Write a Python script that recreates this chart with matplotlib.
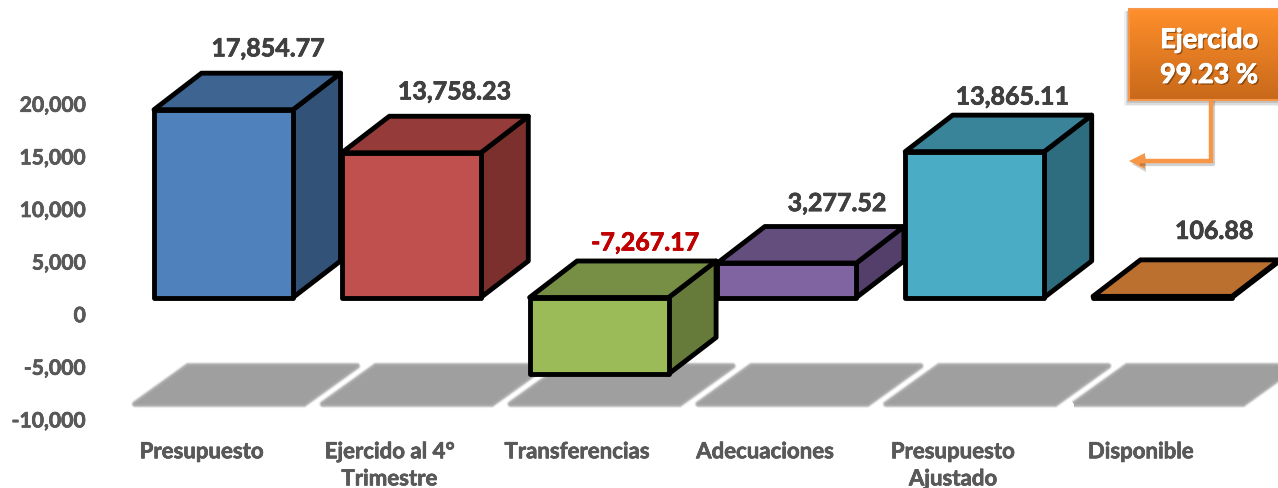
import numpy as np
import matplotlib
matplotlib.use("Agg")
import matplotlib.pyplot as plt
from matplotlib.patches import Polygon
from matplotlib.transforms import ScaledTranslation
import matplotlib.patheffects as pe

# --- data
categories = ["Presupuesto", "Ejercido al 4°\nTrimestre", "Transferencias",
              "Adecuaciones", "Presupuesto\nAjustado", "Disponible"]
values = [17854.77, 13758.23, -7267.17, 3277.52, 13865.11, 106.88]
value_labels = ["17,854.77", "13,758.23", "-7,267.17", "3,277.52", "13,865.11", "106.88"]
y_ticks = [-10000, -5000, 0, 5000, 10000, 15000, 20000]
callout_lines = ["Ejercido", "99.23 %"]

# --- style
front_colors = ["#4F81BD", "#C0504D", "#9BBB59", "#8064A2", "#4BACC6", "#F79646"]
top_colors = ["#3E6491", "#953B39", "#778F44", "#634E7D", "#3A8499", "#BC7030"]
side_colors = ["#325278", "#7B302E", "#667A3A", "#543F6B", "#2E6D80", "#9E5E28"]
label_colors = ["#404040", "#404040", "#C00000", "#404040", "#404040", "#404040"]
# label nudges from the bar's back-top centre, in points
label_nudge_x = [-2, -3, -1, 2, -7, 3]
label_nudge_y = [17.5, 17.5, 13, 16.5, 13, 20.5]

W, H = 1278, 489
DPI = 100
L_PX, B_PX = 90, 436      # axes box in pixels (left, bottom from top)
PX_X = 1 / 187.8          # category units per pixel
PX_Y = 5000 / 52.6        # value units per pixel
TICK0_X, ZERO_Y = 202, 314

fig = plt.figure(figsize=(W / DPI, H / DPI), dpi=DPI, facecolor="white")
ax = fig.add_axes([L_PX / W, (H - B_PX) / H, (W - L_PX) / W, B_PX / H])
ax.set_xlim((L_PX - TICK0_X) * PX_X, (W - TICK0_X) * PX_X)
ax.set_ylim((ZERO_Y - B_PX) * PX_Y, ZERO_Y * PX_Y)
for s in ax.spines.values():
    s.set_visible(False)

FONT = "Lato"
def heavy(color, lw=0.45):
    return [pe.withStroke(linewidth=lw, foreground=color), pe.Normal()]

ax.set_yticks(y_ticks)
ax.set_yticklabels([f"{t:,}" for t in y_ticks], family=FONT, fontweight="bold",
                   fontsize=15.2, color="#595959", path_effects=heavy("#595959"))
ax.tick_params(axis="y", length=0, pad=3)
down = ScaledTranslation(0, -1.2 / DPI, fig.dpi_scale_trans)
for lab in ax.get_yticklabels():
    lab.set_transform(lab.get_transform() + down)
ax.set_xticks(range(len(categories)))
ax.set_xticklabels(categories, family=FONT, fontweight="bold", fontsize=16,
                   color="#595959", linespacing=1.36, path_effects=heavy("#595959"))
ax.tick_params(axis="x", length=0, pad=4.5)

# --- geometry of the 3-D boxes
SHIFT = 21.5 * PX_X
HALF = 69.5 * PX_X
DX, DY = 47.5 * PX_X, 36.5 * PX_Y
LIFT = 15.5 * PX_Y
OUT = dict(edgecolor="black", linewidth=3.5, joinstyle="round")

# floor shadows (inset polygon + stacked round strokes give the soft, rounded edge)
INSET = 3
SH_Y0, SH_Y1 = (ZERO_Y - 408 + INSET) * PX_Y, (ZERO_Y - 364 - INSET) * PX_Y
SH_L, SH_R, SH_S = -67 * PX_X, 102 * PX_X, 53 * PX_X
for i in range(len(values)):
    c = i
    pts = [(c + SH_L, SH_Y0), (c + SH_R, SH_Y0), (c + SH_R + SH_S, SH_Y1), (c + SH_L + SH_S, SH_Y1)]
    for lw, a in [(6.0, 0.10), (5.2, 0.16), (4.4, 0.25), (3.6, 0.4), (2.6, 0.7)]:
        ax.add_patch(Polygon(pts, closed=True, facecolor="none", edgecolor="#9F9F9F",
                             linewidth=lw, alpha=a, joinstyle="round", zorder=1))
    ax.add_patch(Polygon(pts, closed=True, facecolor="#9F9F9F", edgecolor="none", zorder=1.1))

# boxes
for i, v in enumerate(values):
    xl, xr = i + SHIFT - HALF, i + SHIFT + HALF
    y0, y1 = LIFT + min(v, 0), LIFT + max(v, 0)
    z = 2 + i * 0.1
    ax.add_patch(Polygon([(xr, y0), (xr + DX, y0 + DY), (xr + DX, y1 + DY), (xr, y1)],
                         closed=True, facecolor=side_colors[i], zorder=z, clip_on=False, **OUT))
    ax.add_patch(Polygon([(xl, y1), (xr, y1), (xr + DX, y1 + DY), (xl + DX, y1 + DY)],
                         closed=True, facecolor=top_colors[i], zorder=z, clip_on=False, **OUT))
    ax.add_patch(Polygon([(xl, y0), (xr, y0), (xr, y1), (xl, y1)],
                         closed=True, facecolor=front_colors[i], zorder=z, clip_on=False, **OUT))
    ax.annotate(value_labels[i], xy=(i + SHIFT + DX, y1 + DY),
                xytext=(label_nudge_x[i], label_nudge_y[i]), textcoords="offset points",
                ha="center", va="center", family=FONT, fontweight="bold", fontsize=18,
                color=label_colors[i], zorder=6, path_effects=heavy(label_colors[i], 0.5))

# --- callout, in pixel space of the figure
overlay = fig.add_axes([0, 0, 1, 1], facecolor="none")
overlay.set_xlim(0, W); overlay.set_ylim(H, 0); overlay.axis("off")
# soft shadow of the box
for grow, a in [(5, 0.06), (3.5, 0.08), (2, 0.12)]:
    overlay.add_patch(Polygon([(1128 - grow + 1, 12), (W, 12), (W, 101 + grow + 1), (1128 - grow + 1, 101 + grow + 1)],
                              closed=True, facecolor="#000000", edgecolor="none", alpha=a))
# leader shadow
overlay.plot([1213, 1213, 1142], [102, 165, 165], color="#000000", lw=3, alpha=0.18,
             solid_joinstyle="round")
overlay.add_patch(Polygon([(1132, 165), (1146, 157), (1146, 173)], closed=True,
                          facecolor="#000000", edgecolor="none", alpha=0.18))
# leader
overlay.plot([1211, 1211, 1142], [101, 162, 162], color="#F79646", lw=3.2,
             solid_joinstyle="miter")
overlay.add_patch(Polygon([(1129, 162), (1145, 154), (1145, 170)], closed=True,
                          facecolor="#F79646", edgecolor="none"))
# gradient body
grad = np.linspace(0, 1, 64)[:, None, None]
top_c = np.array([0xFF, 0x8F, 0x2B])[None, None, :] / 255
bot_c = np.array([0xC8, 0x69, 0x1A])[None, None, :] / 255
overlay.imshow(top_c * (1 - grad) + bot_c * grad, extent=(1128, W, 101, 9), aspect="auto", zorder=3)
overlay.set_xlim(0, W); overlay.set_ylim(H, 0)
overlay.plot([W, 1128.5, 1128.5, W], [9.5, 9.5, 100.5, 100.5], color="#F79646", lw=1.5, zorder=4)
for text, py in zip(callout_lines, [41, 76]):
    t = overlay.text(1209, py, text, ha="center", va="center", family=FONT, fontweight="bold",
                     fontsize=19.5, color="white", zorder=5)
    t.set_path_effects([pe.withSimplePatchShadow(offset=(1.2, -1.2), shadow_rgbFace="#5A3008", alpha=0.6),
                        pe.withStroke(linewidth=0.6, foreground="white"), pe.Normal()])

fig.savefig("out.png", dpi=DPI, facecolor="white")
